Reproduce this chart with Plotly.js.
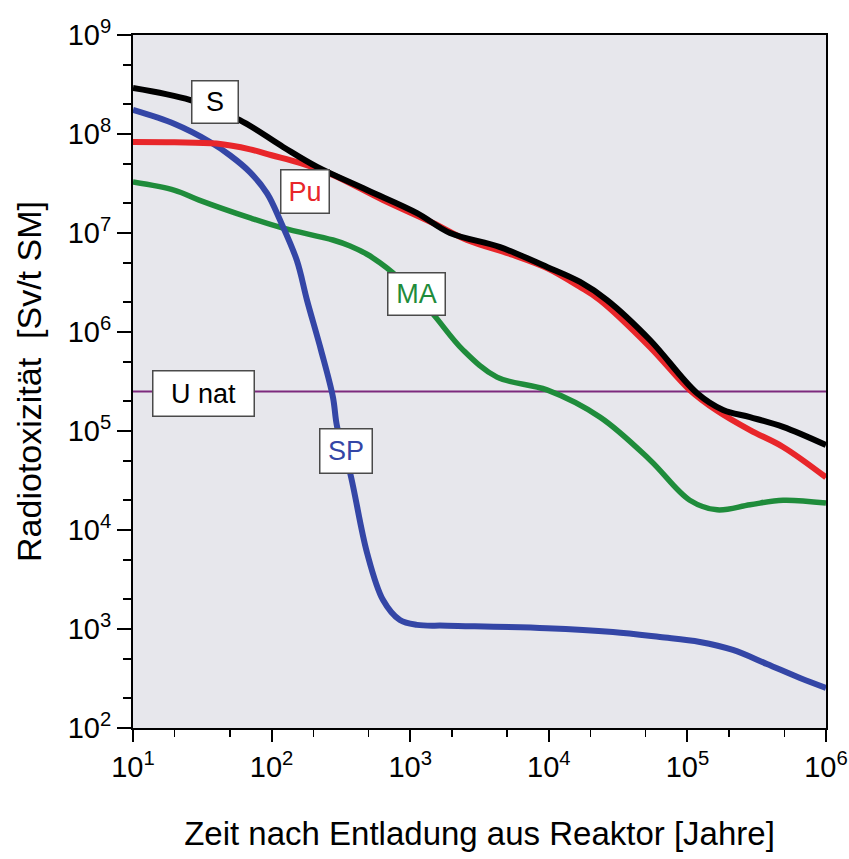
<!DOCTYPE html>
<html>
<head>
<meta charset="utf-8">
<script src="https://cdn.plot.ly/plotly-3.0.1.min.js"></script>
<style>html,body{margin:0;padding:0;background:#fff;}#chart{width:849px;height:859px;}</style>
</head>
<body>
<div id="chart"></div>
<script>
// Time after discharge [years] and radiotoxicity [Sv/t SM]
const xS  = [10, 26, 59, 121, 213, 488, 1120, 1940, 4450, 9700, 16800, 26300, 53700, 117000, 181000, 283000, 490000, 1000000];
const yS  = [2.92e8, 2.2e8, 1.38e8, 7.4e7, 4.65e7, 2.72e7, 1.59e7, 1.0e7, 7.2e6, 4.54e6, 3.2e6, 2.1e6, 8.3e5, 2.42e5, 1.63e5, 1.38e5, 1.1e5, 7.2e4];

const xPu = [10, 20, 40, 70, 100, 160, 277, 637, 1460, 2570, 5520, 9700, 16800, 23400, 53700, 104000, 164000, 283000, 490000, 1000000];
const yPu = [8.3e7, 8.25e7, 8.0e7, 7.0e7, 6.1e7, 5.1e7, 3.85e7, 2.15e7, 1.26e7, 8.5e6, 6.0e6, 4.43e6, 2.85e6, 2.1e6, 7.05e5, 2.6e5, 1.6e5, 1.02e5, 6.9e4, 3.4e4];

const xMA = [10, 20, 30, 70, 121, 277, 368, 488, 605, 750, 1050, 1460, 2400, 4230, 9700, 23400, 53700, 104000, 164000, 283000, 490000, 1000000];
const yMA = [3.27e7, 2.7e7, 2.15e7, 1.42e7, 1.12e7, 8.5e6, 7.4e6, 6.1e6, 5.0e6, 3.95e6, 2.5e6, 1.52e6, 6.6e5, 3.5e5, 2.6e5, 1.38e5, 5.1e4, 2.0e4, 1.6e4, 1.8e4, 2.0e4, 1.87e4];

const xSP = [10, 20, 36, 50, 70, 93, 115, 152, 180, 227, 277, 297, 368, 488, 637, 843, 1120, 1850, 9700, 29000, 63400, 123000, 213000, 375000, 649000, 1000000];
const ySP = [1.75e8, 1.26e8, 8.3e7, 6.1e7, 4.1e7, 2.5e7, 1.35e7, 5.3e6, 2.1e6, 6.6e5, 2.2e5, 1.1e5, 3.8e4, 5.9e3, 1.96e3, 1.23e3, 1.1e3, 1.08e3, 1.02e3, 933, 830, 740, 614, 443, 320, 254];

const xUnat = [10, 1000000];
const yUnat = [2.5e5, 2.5e5];

const xTickVals = [10, 100, 1000, 10000, 100000, 1000000];
const xTickText = ['10<sup>1</sup>', '10<sup>2</sup>', '10<sup>3</sup>', '10<sup>4</sup>', '10<sup>5</sup>', '10<sup>6</sup>'];
const yTickVals = [1e2, 1e3, 1e4, 1e5, 1e6, 1e7, 1e8, 1e9];
const yTickText = ['10<sup>2</sup>', '10<sup>3</sup>', '10<sup>4</sup>', '10<sup>5</sup>', '10<sup>6</sup>', '10<sup>7</sup>', '10<sup>8</sup>', '10<sup>9</sup>'];

const labels = ['S', 'Pu', 'MA', 'SP', 'U nat'];

const FONT = 'Liberation Sans, Arial, sans-serif';
const cBlack = '#000000', cRed = '#e8262a', cGreen = '#1f8c3b', cBlue = '#3446a6', cPurple = '#7d2a7d';

function line(x, y, color, w) {
  return {x: x, y: y, type: 'scatter', mode: 'lines', hoverinfo: 'skip',
          line: {color: color, width: w, shape: 'spline', smoothing: 1}};
}

const traces = [
  {x: xUnat, y: yUnat, type: 'scatter', mode: 'lines', line: {color: cPurple, width: 2}},
  line(xMA, yMA, cGreen, 5.5),
  line(xSP, ySP, cBlue, 6),
  line(xPu, yPu, cRed, 6),
  line(xS, yS, cBlack, 6)
];

function px2paper(px, py) { return {x: (px - 133) / 693, y: (728 - py) / 693}; }
function box(text, px, py, w, h, color) {
  const p = px2paper(px, py);
  return {text: text, xref: 'paper', yref: 'paper', x: p.x, y: p.y, showarrow: false,
          xanchor: 'center', yanchor: 'middle', width: w, height: h,
          bgcolor: '#ffffff', bordercolor: '#4a4a4a', borderwidth: 1.5, borderpad: 0,
          font: {family: FONT, size: 27, color: color}};
}

const layout = {
  width: 849, height: 859, autosize: false,
  margin: {l: 133, r: 23, t: 35, b: 131, pad: 0},
  paper_bgcolor: '#ffffff', plot_bgcolor: '#e7e7ec',
  showlegend: false,
  font: {family: FONT, size: 27, color: '#000'},
  xaxis: {
    type: 'log', range: [1, 6], showgrid: false, zeroline: false,
    showline: true, linecolor: '#000', linewidth: 2, mirror: true,
    ticks: 'outside', ticklen: 12, tickwidth: 2, tickcolor: '#000',
    tickvals: xTickVals, ticktext: xTickText,
    tickfont: {family: FONT, size: 29, color: '#000'},
    minor: {ticks: 'outside', ticklen: 7, tickwidth: 1.5, tickcolor: '#000', showgrid: false},
    title: {text: 'Zeit nach Entladung aus Reaktor [Jahre]', font: {family: FONT, size: 33, color: '#000'}, standoff: 40}
  },
  yaxis: {
    type: 'log', range: [2, 9], showgrid: false, zeroline: false,
    showline: true, linecolor: '#000', linewidth: 2, mirror: true,
    ticks: 'outside', ticklen: 14, tickwidth: 2, tickcolor: '#000',
    tickvals: yTickVals, ticktext: yTickText,
    tickfont: {family: FONT, size: 29, color: '#000'},
    minor: {ticks: 'outside', ticklen: 8, tickwidth: 1.5, tickcolor: '#000', showgrid: false},
    title: {text: 'Radiotoxizität  [Sv/t SM]', font: {family: FONT, size: 34, color: '#000'}, standoff: 16}
  },
  annotations: [
    box(labels[0], 215, 102, 45, 41, cBlack),
    box(labels[1], 305, 191, 47, 42, cRed),
    box(labels[2], 416, 294, 56, 41, cGreen),
    box(labels[3], 346, 451, 51, 43, cBlue),
    box(labels[4], 203, 393, 100, 44, cBlack)
  ]
};

Plotly.newPlot('chart', traces, layout, {staticPlot: true, displayModeBar: false});
</script>
</body>
</html>
